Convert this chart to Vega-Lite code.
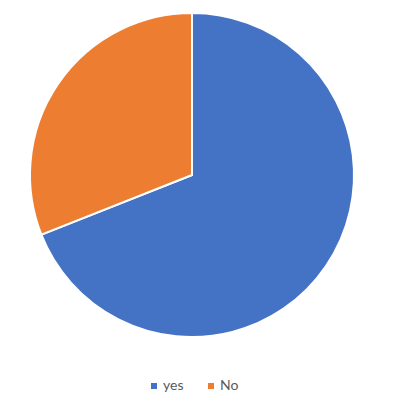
{
  "$schema": "https://vega.github.io/schema/vega-lite/v6.json",
  "width": 384,
  "height": 350,
  "autosize": {"type": "none"},
  "padding": {"left": 0, "top": 0, "right": 16, "bottom": 52},
  "background": "white",
  "data": {
    "values": [
      {"answer": "yes", "count": 69},
      {"answer": "No", "count": 31}
    ]
  },
  "mark": {"type": "arc", "radius": 162, "stroke": "white", "strokeWidth": 2},
  "encoding": {
    "theta": {"field": "count", "type": "quantitative", "stack": true},
    "order": {"field": "answer", "sort": "descending"},
    "color": {
      "field": "answer",
      "type": "nominal",
      "scale": {"domain": ["yes", "No"], "range": ["#4472C4", "#ED7D31"]},
      "legend": {
        "title": null,
        "orient": "none",
        "direction": "horizontal",
        "legendX": 147,
        "legendY": 379,
        "symbolType": "square",
        "symbolSize": 36,
        "symbolStrokeWidth": 0,
        "labelFont": "Lato",
        "labelFontSize": 14,
        "labelColor": "#595959",
        "columnPadding": 20,
        "labelOffset": 2
      }
    }
  },
  "config": {"view": {"stroke": null}}
}
